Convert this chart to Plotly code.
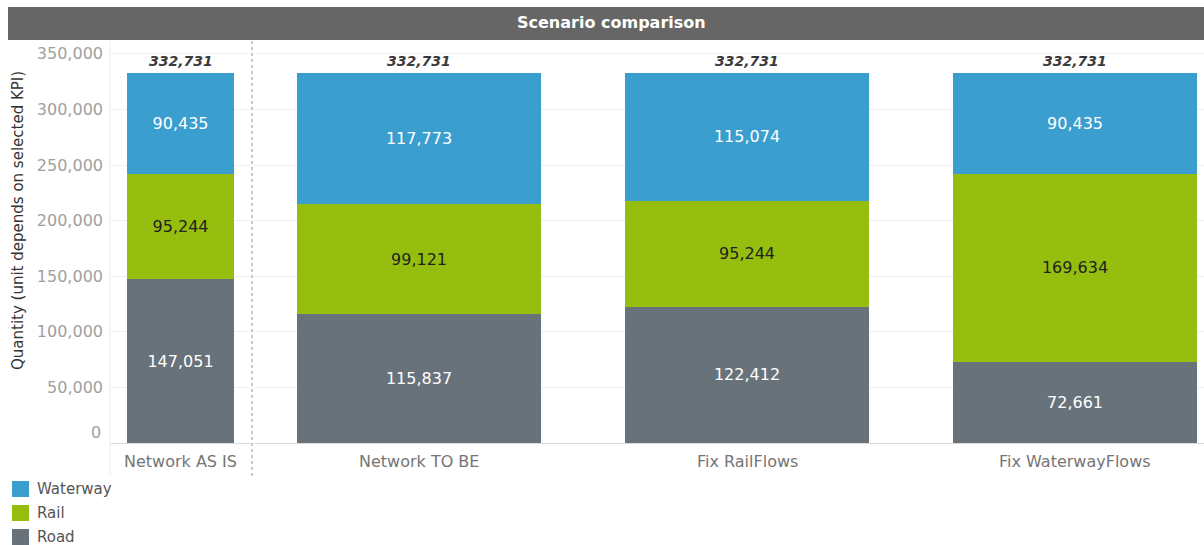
import plotly.graph_objects as go

# Data
scen_left = ["Network AS IS"]
scen_right = ["Network TO BE", "Fix RailFlows", "Fix WaterwayFlows"]
road = [147051, 115837, 122412, 72661]
rail = [95244, 99121, 95244, 169634]
waterway = [90435, 117773, 115074, 90435]
totals = [332731, 332731, 332731, 332731]
modes = ["Waterway", "Rail", "Road"]
y_ticks = [0, 50000, 100000, 150000, 200000, 250000, 300000, 350000]

colors = {"Road": "#68727a", "Rail": "#96be0e", "Waterway": "#3a9ecf"}
label_colors = {"Road": "#ffffff", "Rail": "#222222", "Waterway": "#ffffff"}

W, H = 1204, 545
FONT = "DejaVu Sans"


def px_x(p):
    return p / W


def px_y(p):
    return 1 - p / H


series = {"Road": road, "Rail": rail, "Waterway": waterway}

fig = go.Figure()
panes = (("x", scen_left, slice(0, 1), 0.785),
         ("x2", scen_right, slice(1, 4), 0.744))
for axis, cats, sl, width in panes:
    for m in ["Road", "Rail", "Waterway"]:
        fig.add_trace(go.Bar(
            x=cats, y=series[m][sl], name=m, xaxis=axis, yaxis="y",
            marker=dict(color=colors[m], line=dict(width=0)),
            width=width, text=series[m][sl], texttemplate="%{y:,}",
            textposition="inside", insidetextanchor="middle",
            textfont=dict(family=FONT, size=16, color=label_colors[m]),
            constraintext="none", showlegend=False, hoverinfo="skip",
        ))
    # Stack totals above each bar
    for c, t in zip(cats, totals[sl]):
        fig.add_annotation(text=f"<b><i>{t:,}</i></b>", xref=axis, yref="y",
                           x=c, y=t, yanchor="bottom", yshift=2,
                           showarrow=False,
                           font=dict(family=FONT, size=14, color="#3a3a3a"))

ymax = (443 - 41) / 370 * 332731

fig.update_layout(
    width=W, height=H, margin=dict(l=0, r=0, t=0, b=0, autoexpand=False),
    paper_bgcolor="white", plot_bgcolor="white", barmode="stack",
    font=dict(family=FONT, color="#666666"),
    xaxis=dict(domain=[px_x(110), px_x(251)], range=[-0.52, 0.52],
               showticklabels=False, showgrid=False, zeroline=False,
               automargin=False, fixedrange=True),
    xaxis2=dict(domain=[px_x(255), 1.0], range=[-0.5, -0.5 + 949 / 328],
                showticklabels=False, showgrid=False, zeroline=False,
                automargin=False, fixedrange=True),
    yaxis=dict(domain=[px_y(443), px_y(41)], range=[0, ymax],
               tickvals=y_ticks,
               ticktext=["" if v == 0 else f"{v:,}" for v in y_ticks],
               tickfont=dict(family=FONT, size=16, color="#a0a0a0"),
               ticks="", ticklabelstandoff=6, automargin=False,
               showgrid=True, gridcolor="#efefef", gridwidth=1,
               zeroline=True, zerolinecolor="#dcdcdc", zerolinewidth=1,
               fixedrange=True),
)

# Zero tick label sits just inside the pane
fig.add_annotation(text=f"{y_ticks[0]:,}", xref="paper", yref="paper",
                   x=px_x(103), y=px_y(432), xanchor="right", yanchor="middle",
                   showarrow=False,
                   font=dict(family=FONT, size=16, color="#a0a0a0"))

# Axis title
fig.add_annotation(text="Quantity (unit depends on selected KPI)",
                   xref="paper", yref="paper", x=px_x(18), y=px_y(221),
                   xanchor="center", yanchor="middle", textangle=-90,
                   showarrow=False,
                   font=dict(family=FONT, size=15, color="#333333"))

# Title band
fig.add_shape(type="rect", xref="paper", yref="paper",
              x0=px_x(8), x1=1, y0=px_y(40), y1=px_y(7),
              fillcolor="#666666", line=dict(width=0), layer="below")
fig.add_annotation(text="<b>Scenario comparison</b>", xref="paper", yref="paper",
                   x=px_x(611), y=px_y(22), yanchor="middle", showarrow=False,
                   font=dict(family=FONT, size=16, color="white"))

# Pane divider and row separators
fig.add_shape(type="line", xref="paper", yref="paper",
              x0=px_x(252), x1=px_x(252), y0=px_y(476), y1=px_y(41),
              line=dict(color="#b5b5b5", width=1.5, dash="dot"))
fig.add_shape(type="line", xref="paper", yref="paper",
              x0=px_x(110), x1=px_x(110), y0=px_y(476), y1=px_y(41),
              line=dict(color="#eeeeee", width=1))

# Category labels under the bars
for axis, cats, _, _ in panes:
    for c in cats:
        fig.add_annotation(text=c, xref=axis, yref="paper", x=c, y=px_y(461),
                           yanchor="middle", showarrow=False,
                           font=dict(family=FONT, size=16, color="#757575"))

# Legend
for i, m in enumerate(modes):
    yc = 489 + 24 * i
    fig.add_shape(type="rect", xref="paper", yref="paper",
                  x0=px_x(12), x1=px_x(29), y0=px_y(yc + 8), y1=px_y(yc - 8),
                  fillcolor=colors[m], line=dict(width=0))
    fig.add_annotation(text=m, xref="paper", yref="paper", x=px_x(35),
                       y=px_y(yc), xanchor="left", yanchor="middle",
                       showarrow=False,
                       font=dict(family=FONT, size=15, color="#555555"))

fig.write_html("out.html")
